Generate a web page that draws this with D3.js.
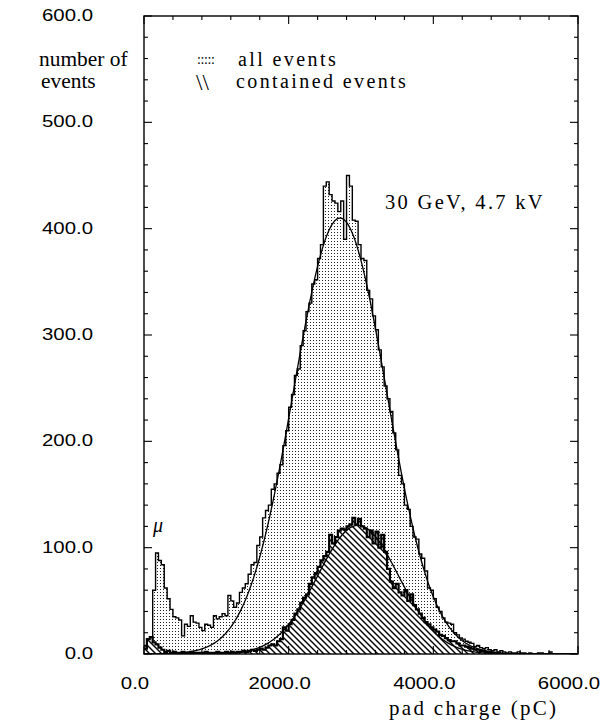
<!DOCTYPE html>
<html>
<head>
<meta charset="utf-8">
<script src="https://cdn.jsdelivr.net/npm/d3@7"></script>
<style>
  html, body { margin: 0; padding: 0; background: #fff; }
  svg { display: block; }
</style>
</head>
<body>
<svg id="chart" width="615" height="727"></svg>
<script>
// Pad charge histograms, 40 pC bins from 0 to 6000 pC
const binWidth = 40;

// all events, counts per bin
const allEvents = [
  8, 14, 12, 60, 95, 88, 84, 62, 52, 42,
  35, 34, 32, 17, 28, 26, 36, 30, 29, 25,
  22, 28, 27, 25, 36, 33, 35, 38, 36, 55,
  50, 44, 48, 58, 62, 66, 75, 84, 86, 102,
  110, 128, 135, 140, 155, 160, 170, 178, 196, 210,
  232, 244, 262, 268, 290, 304, 322, 330, 348, 352,
  372, 385, 440, 444, 432, 426, 424, 416, 426, 390,
  450, 440, 408, 407, 385, 372, 370, 342, 334, 318,
  305, 286, 270, 252, 240, 228, 208, 192, 168, 160,
  140, 136, 120, 110, 108, 94, 90, 78, 62, 60,
  52, 44, 40, 34, 30, 29, 28, 20, 18, 15,
  14, 12, 11, 10, 7, 8, 6, 5, 6, 4,
  3, 4, 2, 3, 2, 1, 2, 1, 1, 2,
  1, 1, 0, 1, 0, 0, 1, 1, 0, 0,
  2, 0, 0, 0, 0, 0, 0, 0, 0, 0
];

// contained events, counts per bin
const containedEvents = [
  5, 14, 16, 11, 9, 6, 4, 2, 3, 1,
  2, 1, 1, 2, 1, 1, 2, 1, 1, 1,
  1, 2, 1, 1, 1, 2, 1, 1, 2, 1,
  2, 1, 2, 2, 3, 2, 3, 4, 3, 4,
  5, 4, 6, 8, 9, 8, 12, 14, 25, 22,
  28, 32, 38, 42, 48, 53, 56, 66, 72, 76,
  82, 88, 92, 96, 112, 104, 110, 116, 118, 117,
  120, 122, 128, 122, 127, 120, 118, 110, 116, 104,
  115, 100, 112, 96, 80, 68, 62, 66, 58, 55,
  60, 50, 56, 46, 42, 38, 34, 30, 28, 25,
  23, 21, 18, 17, 15, 13, 12, 12, 10, 8,
  8, 7, 6, 5, 4, 4, 3, 3, 2, 2,
  1, 1, 1, 0, 0, 0, 0, 0, 0, 0,
  0, 0, 0, 0, 0, 0, 0, 0, 0, 0,
  0, 0, 0, 0, 0, 0, 0, 0, 0, 0
];

// Gaussian fit parameters: [amplitude, mean (pC), sigma (pC)]
const fitAll = [410, 2710, 640];
const fitContained = [121, 2960, 560];

// axis ticks and labels
const xTickLabels = [0, 2000, 4000, 6000];
const yTickLabels = [0, 100, 200, 300, 400, 500, 600];
const xMinorStep = 400;
const yMinorStep = 20;

const legendItems = ["all events", "contained events"];
const yTitle = ["number of", "events"];
const xTitle = "pad charge (pC)";
const runLabel = "30 GeV, 4.7 kV";
const muLabel = "\u03bc";

const svg = d3.select("#chart");
const plot = { left: 144, right: 578, top: 16, bottom: 654 };

const x = d3.scaleLinear().domain([0, 6000]).range([plot.left, plot.right]);
const y = d3.scaleLinear().domain([0, 600]).range([plot.bottom, plot.top]);

// fill patterns: stipple for all events, back-slash hatching for contained events
const defs = svg.append("defs");
const dots = defs.append("pattern")
  .attr("id", "dots").attr("patternUnits", "userSpaceOnUse")
  .attr("width", 3).attr("height", 3);
dots.append("rect").attr("x", 1).attr("y", 1).attr("width", 1).attr("height", 1).attr("fill", "#222");

const hatch = defs.append("pattern")
  .attr("id", "hatch").attr("patternUnits", "userSpaceOnUse")
  .attr("width", 6).attr("height", 6);
hatch.append("rect").attr("width", 6).attr("height", 6).attr("fill", "#fff");
hatch.append("path")
  .attr("d", "M0,0 L6,6 M-3,3 L3,9 M3,-3 L9,3")
  .attr("stroke", "#000").attr("stroke-width", 1.4);

defs.append("clipPath").attr("id", "plotClip")
  .append("rect")
  .attr("x", plot.left).attr("y", plot.top)
  .attr("width", plot.right - plot.left).attr("height", plot.bottom - plot.top);

// step outline of a histogram, closed down to the baseline
function histPoints(counts) {
  const pts = counts.map((c, i) => [i * binWidth, c]);
  pts.push([counts.length * binWidth, counts[counts.length - 1]]);
  return pts;
}
const area = d3.area()
  .x(d => x(d[0])).y0(y(0)).y1(d => y(d[1]))
  .curve(d3.curveStepAfter);
const line = d3.line()
  .x(d => x(d[0])).y(d => y(d[1]))
  .curve(d3.curveStepAfter);

const g = svg.append("g").attr("clip-path", "url(#plotClip)");

g.append("path").datum(histPoints(allEvents))
  .attr("d", area).attr("fill", "url(#dots)");
g.append("path").datum(histPoints(allEvents))
  .attr("d", line).attr("fill", "none")
  .attr("stroke", "#000").attr("stroke-width", 1.4);

g.append("path").datum(histPoints(containedEvents))
  .attr("d", area).attr("fill", "url(#hatch)");
g.append("path").datum(histPoints(containedEvents))
  .attr("d", line).attr("fill", "none")
  .attr("stroke", "#000").attr("stroke-width", 2.2);

// fitted Gaussians
function gaussCurve(p) {
  const xs = d3.range(0, 6001, 10);
  return xs.map(v => [v, p[0] * Math.exp(-((v - p[1]) ** 2) / (2 * p[2] * p[2]))]);
}
const smooth = d3.line().x(d => x(d[0])).y(d => y(d[1]));
g.append("path").datum(gaussCurve(fitAll))
  .attr("d", smooth).attr("fill", "none")
  .attr("stroke", "#000").attr("stroke-width", 1.3);
g.append("path").datum(gaussCurve(fitContained))
  .attr("d", smooth).attr("fill", "none")
  .attr("stroke", "#000").attr("stroke-width", 1.3);

// frame
svg.append("rect")
  .attr("x", plot.left).attr("y", plot.top)
  .attr("width", plot.right - plot.left).attr("height", plot.bottom - plot.top)
  .attr("fill", "none").attr("stroke", "#000").attr("stroke-width", 1.4);

// inward ticks on all four sides
const ticks = svg.append("g").attr("stroke", "#000").attr("stroke-width", 1.1);
d3.range(0, 600 + 1e-6, yMinorStep).forEach(v => {
  const len = v % 100 === 0 ? 8 : 4;
  ticks.append("line").attr("x1", plot.left).attr("x2", plot.left + len).attr("y1", y(v)).attr("y2", y(v));
  ticks.append("line").attr("x1", plot.right).attr("x2", plot.right - len).attr("y1", y(v)).attr("y2", y(v));
});
d3.range(0, 6000 + 1e-6, xMinorStep).forEach(v => {
  const len = v % 2000 === 0 ? 8 : 4;
  ticks.append("line").attr("x1", x(v)).attr("x2", x(v)).attr("y1", plot.top).attr("y2", plot.top + len);
  ticks.append("line").attr("x1", x(v)).attr("x2", x(v)).attr("y1", plot.bottom).attr("y2", plot.bottom - len);
});

const sans = "'Liberation Sans', Arial, sans-serif";
const serif = "'Liberation Serif', 'Times New Roman', serif";

// text helper; sx widens the glyphs horizontally about the anchor point
function label(px, py, str, opts) {
  const t = svg.append("text")
    .attr("transform", `translate(${px},${py}) scale(${opts.sx || 1},1)`)
    .attr("text-anchor", opts.anchor || "start")
    .attr("font-family", opts.family || serif)
    .attr("font-size", opts.size || 20)
    .attr("fill", "#000")
    .text(str);
  if (opts.spacing) t.attr("letter-spacing", opts.spacing);
  if (opts.italic) t.attr("font-style", "italic");
  return t;
}

// tick labels
yTickLabels.forEach(v => {
  label(93, y(v) + 5, v.toFixed(1), { anchor: "end", family: sans, size: 17, sx: 1.2 });
});
xTickLabels.forEach(v => {
  label(x(v) - 9, 689, v.toFixed(1), { anchor: "middle", family: sans, size: 17, sx: 1.2 });
});

// axis titles
label(39, 66, yTitle[0], { size: 20, sx: 1.07 });
label(41, 88, yTitle[1], { size: 20, sx: 1.07 });
label(389, 715, xTitle, { size: 21, spacing: 2.3 });

// legend
label(197, 64, ":::::", { size: 14, spacing: -0.4 });
label(238, 66, legendItems[0], { size: 20, spacing: 2.4 });
label(196, 90, "\\\\", { size: 23 });
label(236, 88, legendItems[1], { size: 20, spacing: 2.4 });

// annotations
label(385, 209, runLabel, { size: 20.5, spacing: 2.3 });
label(153, 532, muLabel, { size: 20, italic: true });
</script>
</body>
</html>
